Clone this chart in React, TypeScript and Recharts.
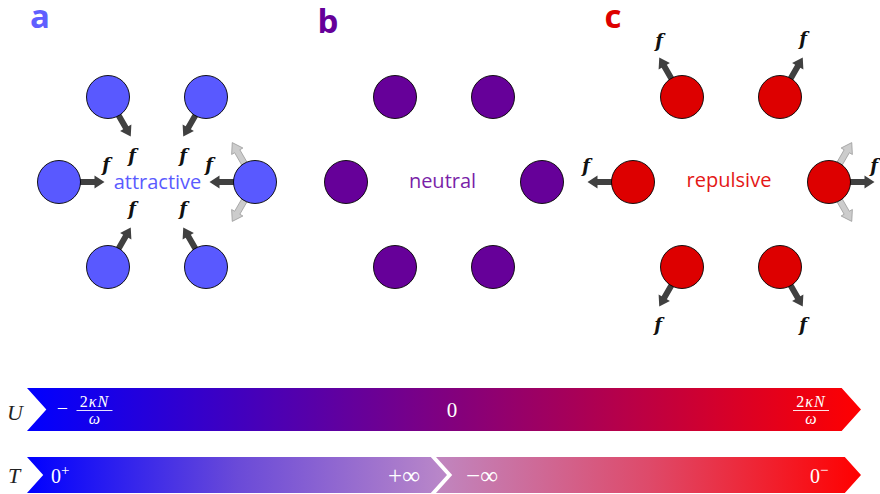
import React from "react";
import { ReferenceArea, Scatter, ScatterChart, XAxis, YAxis } from "recharts";

const W = 880;
const H = 494;

const SANS = "'Open Sans', 'Noto Sans', sans-serif";
const SERIF = "'Liberation Serif', 'DejaVu Serif', serif";
const MATH_BOLD = "'DejaVu Serif', 'Liberation Serif', serif";

// hexagon of six particles per panel
const PANEL_CX = [157, 444, 731];
const PANEL_CY = 182;
const HEX_DX = [-49, 49, -98, 98, -49, 49];
const HEX_DY = [-85, -85, 0, 0, 85, 85];
const PANEL_FILL = ["#5959ff", "#660099", "#dd0000"];
const LETTER_FILL = ["#5f5fff", "#660099", "#dd0000"];
const TEXT_FILL = ["#5b5bff", "#7a1fa8", "#e41616"];

const PANEL_LETTERS = [
  { x: 40, y: 28, text: "a", panel: 0 },
  { x: 328, y: 33, text: "b", panel: 1 },
  { x: 613, y: 28, text: "c", panel: 2 },
];
const PANEL_NAMES = [
  { x: 157.5, y: 189, text: "attractive", panel: 0 },
  { x: 442.5, y: 188, text: "neutral", panel: 1 },
  { x: 729, y: 187, text: "repulsive", panel: 2 },
];

// force direction per site, degrees (0 = right, 90 = down)
const FORCE_ATTR = [60, 120, 0, 180, -60, -120];
const FORCE_REP = [-120, -60, 180, 0, 120, 60];
// light grey "bond" arrows on the right-hand particle
const BOND_ARROWS = [
  { panel: 0, site: 3, angles: [-120, 120] },
  { panel: 2, site: 3, angles: [-60, 60] },
];

const F_LABELS = [
  { x: 132, y: 155 }, { x: 183, y: 155 }, { x: 106, y: 164 },
  { x: 209, y: 164 }, { x: 132, y: 208 }, { x: 183, y: 208 },
  { x: 659, y: 40 }, { x: 803, y: 38 }, { x: 586, y: 165 },
  { x: 874, y: 165 }, { x: 658, y: 324 }, { x: 803, y: 324 },
];

// colour bars
const BARS = [
  { id: "gU", x1: 27, x2: 861, y1: 388, y2: 431, stops: ["#0000ff", "#800080", "#ff0000"] },
  { id: "gT1", x1: 27, x2: 447, y1: 457, y2: 493, stops: ["#0000ff", "#6a4ad8", "#bb88c8"] },
  { id: "gT2", x1: 436, x2: 861, y1: 457, y2: 493, stops: ["#c086c0", "#de4a6a", "#ff0000"] },
];
const AXIS_LABELS = [
  { x: 15, y: 420, text: "U" },
  { x: 14, y: 483, text: "T" },
];
const BAR_LABELS = [
  { x: 452, y: 417, text: "0", size: 21 },
  { x: 404, y: 484, text: "+∞", size: 25 },
  { x: 482, y: 484, text: "−∞", size: 25 },
];
const SUP_LABELS = [
  { x: 51, y: 483, base: "0", sup: "+" },
  { x: 810, y: 483, base: "0", sup: "−" },
];
const FRACTIONS = [
  { x: 94.5, y: 409.5, sign: "−" },
  { x: 811, y: 409.5, sign: "" },
];

const particles = PANEL_CX.flatMap((cx, p) =>
  HEX_DX.map((dx, i) => ({ x: cx + dx, y: PANEL_CY + HEX_DY[i], panel: p }))
);

const forces = [
  ...HEX_DX.map((dx, i) => ({ x: PANEL_CX[0] + dx, y: PANEL_CY + HEX_DY[i], angle: FORCE_ATTR[i] })),
  ...HEX_DX.map((dx, i) => ({ x: PANEL_CX[2] + dx, y: PANEL_CY + HEX_DY[i], angle: FORCE_REP[i] })),
];

const bonds = BOND_ARROWS.flatMap((b) =>
  b.angles.map((angle) => ({
    x: PANEL_CX[b.panel] + HEX_DX[b.site],
    y: PANEL_CY + HEX_DY[b.site],
    angle,
  }))
);

const R = 21.5;

function arrowPath(cx: number, cy: number, angle: number, start: number, len: number) {
  const a = (angle * Math.PI) / 180;
  const c = Math.cos(a);
  const s = Math.sin(a);
  const w = 3;
  const h = 6.5;
  const hl = 10;
  const pts: [number, number][] = [
    [start, -w], [start + len - hl, -w], [start + len - hl, -h], [start + len, 0],
    [start + len - hl, h], [start + len - hl, w], [start, w],
  ];
  return (
    pts
      .map(([u, v], i) => `${i ? "L" : "M"}${(cx + u * c - v * s).toFixed(2)},${(cy + u * s + v * c).toFixed(2)}`)
      .join(" ") + " Z"
  );
}

function ForceArrow(props: any) {
  const { cx, cy, payload } = props;
  return <path d={arrowPath(cx, cy, payload.angle, R - 3, 27)} fill="#404040" />;
}

function BondArrow(props: any) {
  const { cx, cy, payload } = props;
  return <path d={arrowPath(cx, cy, payload.angle, R - 3, 27)} fill="#cccccc" stroke="#9a9a9a" strokeWidth={0.8} />;
}

function Particle(props: any) {
  const { cx, cy, payload } = props;
  return <circle cx={cx} cy={cy} r={R} fill={PANEL_FILL[payload.panel]} stroke="#000" strokeWidth={0.9} />;
}

function LetterShape(props: any) {
  const { cx, cy, payload } = props;
  return (
    <text x={cx} y={cy} textAnchor="middle" fontFamily={SANS} fontWeight={700} fontSize={33} fill={LETTER_FILL[payload.panel]}>
      {payload.text}
    </text>
  );
}

function NameShape(props: any) {
  const { cx, cy, payload } = props;
  return (
    <text x={cx} y={cy} textAnchor="middle" fontFamily={SANS} fontSize={20} fill={TEXT_FILL[payload.panel]}>
      {payload.text}
    </text>
  );
}

function FShape(props: any) {
  const { cx, cy } = props;
  return (
    <text x={cx} y={cy} textAnchor="middle" dominantBaseline="central" fontFamily={MATH_BOLD} fontStyle="italic" fontWeight={700} fontSize={18} fill="#111">
      f
    </text>
  );
}

function AxisLabel(props: any) {
  const { cx, cy, payload } = props;
  return (
    <text x={cx} y={cy} textAnchor="middle" fontFamily={SERIF} fontStyle="italic" fontSize={22} fill="#222">
      {payload.text}
    </text>
  );
}

function BarLabel(props: any) {
  const { cx, cy, payload } = props;
  return (
    <text x={cx} y={cy} textAnchor="middle" fontFamily={SERIF} fontSize={payload.size} fill="#fff">
      {payload.text}
    </text>
  );
}

function SupLabel(props: any) {
  const { cx, cy, payload } = props;
  return (
    <text x={cx} y={cy} fontFamily={SERIF} fontSize={20} fill="#fff">
      {payload.base}
      <tspan dy={-8} fontSize={15}>{payload.sup}</tspan>
    </text>
  );
}

function Fraction(props: any) {
  const { cx, cy, payload } = props;
  return (
    <g fill="#fff" fontFamily={SERIF}>
      {payload.sign && (
        <text x={cx - 32} y={cy + 5} textAnchor="middle" fontSize={20}>
          {payload.sign}
        </text>
      )}
      <text x={cx} y={cy - 3} textAnchor="middle" fontSize={16} letterSpacing={1}>
        2<tspan fontStyle="italic">κN</tspan>
      </text>
      <line x1={cx - 18} x2={cx + 18} y1={cy + 1} y2={cy + 1} stroke="#fff" strokeWidth={0.9} />
      <text x={cx} y={cy + 14} textAnchor="middle" fontSize={16} fontStyle="italic">
        ω
      </text>
    </g>
  );
}

function chevron(id: string, stops: string[]) {
  return (props: any) => {
    const { x, y, width, height } = props;
    const d = height * 0.45;
    const m = y + height / 2;
    const path = `M${x},${y} L${x + width - d},${y} L${x + width},${m} L${x + width - d},${y + height} L${x},${y + height} L${x + d},${m} Z`;
    return (
      <g>
        <defs>
          <linearGradient id={id} x1="0" y1="0" x2="1" y2="0">
            {stops.map((c, i) => (
              <stop key={i} offset={`${(i / (stops.length - 1)) * 100}%`} stopColor={c} />
            ))}
          </linearGradient>
        </defs>
        <path d={path} fill={`url(#${id})`} />
      </g>
    );
  };
}

export default function App() {
  return (
    <div style={{ position: "absolute", left: 0, top: 0, background: "#fff" }}>
      <ScatterChart width={W} height={H} margin={{ top: 0, right: 0, bottom: 0, left: 0 }}>
        <XAxis type="number" dataKey="x" domain={[0, W]} allowDataOverflow hide />
        <YAxis type="number" dataKey="y" domain={[0, H]} allowDataOverflow reversed hide />
        {BARS.map((b) => (
          <ReferenceArea
            key={b.id}
            x1={b.x1}
            x2={b.x2}
            y1={b.y1}
            y2={b.y2}
            ifOverflow="visible"
            shape={chevron(b.id, b.stops)}
          />
        ))}
        <Scatter data={forces} shape={(p: any) => <ForceArrow {...p} />} isAnimationActive={false} />
        <Scatter data={bonds} shape={(p: any) => <BondArrow {...p} />} isAnimationActive={false} />
        <Scatter data={particles} shape={(p: any) => <Particle {...p} />} isAnimationActive={false} />
        <Scatter data={PANEL_LETTERS} shape={(p: any) => <LetterShape {...p} />} isAnimationActive={false} />
        <Scatter data={PANEL_NAMES} shape={(p: any) => <NameShape {...p} />} isAnimationActive={false} />
        <Scatter data={F_LABELS} shape={(p: any) => <FShape {...p} />} isAnimationActive={false} />
        <Scatter data={AXIS_LABELS} shape={(p: any) => <AxisLabel {...p} />} isAnimationActive={false} />
        <Scatter data={BAR_LABELS} shape={(p: any) => <BarLabel {...p} />} isAnimationActive={false} />
        <Scatter data={SUP_LABELS} shape={(p: any) => <SupLabel {...p} />} isAnimationActive={false} />
        <Scatter data={FRACTIONS} shape={(p: any) => <Fraction {...p} />} isAnimationActive={false} />
      </ScatterChart>
    </div>
  );
}
